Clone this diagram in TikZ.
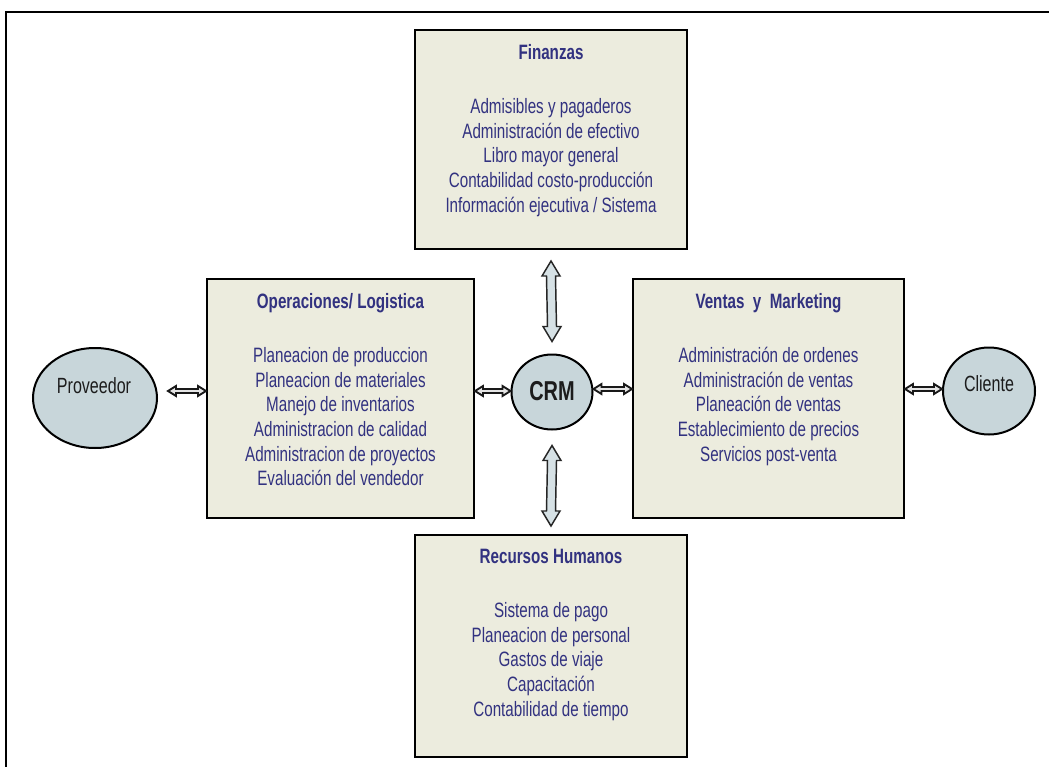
\documentclass[tikz,border=0pt]{standalone}
\usepackage{fontspec}
\setmainfont{Liberation Sans}[FakeStretch=0.73]
\usetikzlibrary{shapes.geometric,calc}

\definecolor{boxfill}{RGB}{236,236,222}
\definecolor{txtblue}{RGB}{50,50,128}
\definecolor{ellfill}{RGB}{200,214,218}
\definecolor{arrfill}{RGB}{214,225,229}
\definecolor{inkdark}{RGB}{28,28,28}

\newcommand\pxu{0.75pt}

% wide double arrow between a top tip (#1) and a bottom tip (#2)
\newcommand\vdarr[2]{%
  \draw[bigarrow] (#1) -- ++(9,15) -- ++(-4.5,0) -- ($(#2)+(4.5,-15)$)
    -- ++(4.5,0) -- (#2) -- ++(-9,-15) -- ++(4.5,0) -- ($(#1)+(-4.5,15)$)
    -- ++(-4.5,0) -- cycle;}
% small double arrow between a left tip (#1) and a right tip (#2)
\newcommand\hdarr[2]{%
  \draw[smallarrow] (#1) -- ++(8,-5) -- ++(0,3) -- ($(#2)+(-8,-2)$)
    -- ++(0,-3) -- (#2) -- ++(-8,5) -- ++(0,-3) -- ($(#1)+(8,2)$)
    -- ++(0,3) -- cycle;}

\begin{document}
\begin{tikzpicture}[x=0.75pt,y=-0.75pt,
  modbox/.style={draw=black, line width=1.5pt, fill=boxfill, inner sep=0pt},
  boxtext/.style={anchor=north, inner sep=0pt, align=center, text=txtblue,
    font=\fontsize{15.6pt}{18.5pt}\selectfont},
  party/.style={ellipse, draw=black, line width=1.5pt, fill=ellfill, inner sep=0pt},
  partytext/.style={inner sep=0pt, text=inkdark, font=\fontsize{16.5pt}{19pt}\selectfont},
  bigarrow/.style={draw=black!85, line width=1.1pt, fill=arrfill, line join=miter},
  smallarrow/.style={draw=black!90, line width=1.4pt, fill=black!10, line join=miter}]

\useasboundingbox (0,0) rectangle (1049,767);

% outer frame (top and left edges)
\draw[line width=2.2pt] (1060,12) -- (6,12) -- (6,780);

% module boxes
\node[modbox, minimum width=272*\pxu, minimum height=219*\pxu] (fin) at (551,139.5) {};
\node[modbox, minimum width=267*\pxu, minimum height=239*\pxu] (ops) at (340.5,398.5) {};
\node[modbox, minimum width=271*\pxu, minimum height=239*\pxu] (vm)  at (768.5,398.5) {};
\node[modbox, minimum width=272*\pxu, minimum height=222*\pxu] (rh)  at (551,646) {};

\node[boxtext] (fintxt) at ($(fin.north)+(0,15)$) {\textbf{Finanzas}\\[22pt]
  Admisibles y pagaderos\\ Administración de efectivo\\ Libro mayor general\\
  Contabilidad costo-producción\\ Información ejecutiva / Sistema};
\node[boxtext] (opstxt) at ($(ops.north)+(0,15)$) {\textbf{Operaciones/ Logistica}\\[22pt]
  Planeacion de produccion\\ Planeacion de materiales\\ Manejo de inventarios\\
  Administracion de calidad\\ Administracion de proyectos\\ Evaluación del vendedor};
\node[boxtext] (vmtxt) at ($(vm.north)+(0,15)$) {\textbf{Ventas \ y \ Marketing}\\[22pt]
  Administración de ordenes\\ Administración de ventas\\ Planeación de ventas\\
  Establecimiento de precios\\ Servicios post-venta};
\node[boxtext] (rhtxt) at ($(rh.north)+(0,15)$) {\textbf{Recursos Humanos}\\[22pt]
  Sistema de pago\\ Planeacion de personal\\ Gastos de viaje\\
  Capacitación\\ Contabilidad de tiempo};

% CRM hub and external parties
\node[party, minimum width=81*\pxu, minimum height=75*\pxu] (crm) at (552,392) {};
\node[partytext, font=\fontsize{20.5pt}{22pt}\selectfont\bfseries] (crmtxt) at (552,391) {CRM};
\node[party, minimum width=124*\pxu, minimum height=100*\pxu] (prov) at (95,398) {};
\node[partytext] (provtxt) at (94,386) {Proveedor};
\node[party, minimum width=92*\pxu, minimum height=87*\pxu] (cli) at (989,391) {};
\node[partytext] (clitxt) at (989,384) {Cliente};

% connector end points
\coordinate (finS) at ($(fin.south)+(0,11)$);
\coordinate (crmN) at ($(crm.north)+(0,-12)$);
\coordinate (crmS) at ($(crm.south)+(0,15)$);
\coordinate (rhN)  at ($(rh.north)+(0,-8)$);
\coordinate (provE) at ($(prov.east)+(10,0)$);
\coordinate (opsL) at (ops.west |- 0,391);
\coordinate (provR) at (provE |- 0,391);
\coordinate (opsR) at (ops.east |- 0,391);
\coordinate (crmW) at (crm.west |- 0,391);
\coordinate (crmE) at (crm.east |- 0,389);
\coordinate (vmL)  at (vm.west |- 0,389);
\coordinate (vmR)  at (vm.east |- 0,389);
\coordinate (cliW) at (cli.west |- 0,389);

% connectors
\vdarr{finS}{crmN}
\vdarr{crmS}{rhN}
\hdarr{provR}{opsL}
\hdarr{opsR}{crmW}
\hdarr{crmE}{vmL}
\hdarr{vmR}{cliW}

\end{tikzpicture}
\end{document}
